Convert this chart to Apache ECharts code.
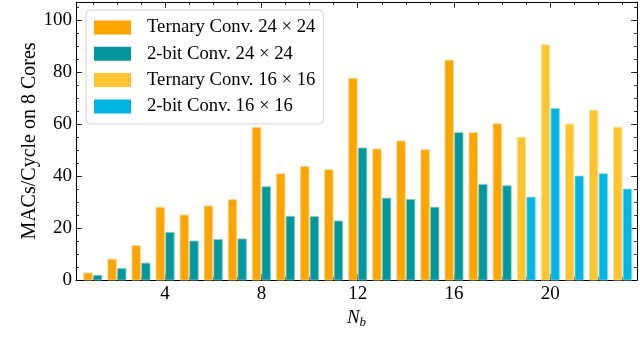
<!DOCTYPE html>
<html>
<head>
<meta charset="utf-8">
<script src="https://cdn.jsdelivr.net/npm/echarts@6/dist/echarts.min.js"></script>
<style>html,body{margin:0;padding:0;background:#fff}#c{width:640px;height:352px}</style>
</head>
<body>
<div id="c"></div>
<script>
// ---- data ----
const nb24 = [1,2,3,4,5,6,7,8,9,10,11,12,13,14,15,16,17,18];
const ternary24 = [2.7,8.0,13.2,28.0,25.0,28.5,30.9,58.7,40.9,43.7,42.4,77.6,50.4,53.5,50.1,84.6,56.7,60.1];
const bit2_24 = [1.8,4.4,6.5,18.3,15.0,15.6,15.8,35.9,24.5,24.4,22.7,50.8,31.5,31.0,28.0,56.7,36.8,36.3];
const nb16 = [19,20,21,22,23];
const ternary16 = [54.9,90.5,60.0,65.3,58.8];
const bit2_16 = [31.9,66.0,40.0,40.9,35.0];
const xMajorTicks = [4,8,12,16,20];
const xMinorTicks = [1,2,3,4,5,6,7,8,9,10,11,12,13,14,15,16,17,18,19,20,21,22,23];
const yMajorTicks = [0,20,40,60,80,100];
const yMinorTicks = [0,5,10,15,20,25,30,35,40,45,50,55,60,65,70,75,80,85,90,95,100,105];
const seriesNames = ['Ternary Conv. 24 × 24','2-bit Conv. 24 × 24','Ternary Conv. 16 × 16','2-bit Conv. 16 × 16'];

const FONT = "'Liberation Serif','DejaVu Serif',serif";
const FS = 19;
const BAR_W = 0.35, GAP = 0.025;

function pairs(xs, ys){ return xs.map((x,i)=>[x, ys[i]]); }

function makeSeries(name, xs, ys, side, color, edge){
  return {
    type:'custom', name, xAxisIndex:0, yAxisIndex:0,
    itemStyle:{color},
    data: pairs(xs, ys),
    encode:{x:0, y:1},
    renderItem:(params, api)=>{
      const x = api.value(0), y = api.value(1);
      const x0 = side < 0 ? x - GAP - BAR_W : x + GAP;
      const p0 = api.coord([x0, y]);
      const p1 = api.coord([x0 + BAR_W, 0]);
      return {type:'rect', shape:{x:p0[0], y:p0[1], width:p1[0]-p0[0], height:p1[1]-p0[1]},
              style:{fill:color, stroke:edge, lineWidth:0.8}};
    }
  };
}

function xAx(pos, ticks, len, labels, line){
  return {type:'value', position:pos, min:0.3, max:23.6,
    axisLine:{show:line, onZero:false, lineStyle:{color:'#000', width:1}},
    axisTick:{show:true, inside:true, length:len, customValues:ticks, lineStyle:{color:'#000', width:0.8}},
    axisLabel:{show:labels, customValues:xMajorTicks, fontFamily:FONT, fontSize:FS, color:'#000', margin:5},
    splitLine:{show:false}};
}
function yAx(pos, ticks, len, labels, line){
  return {type:'value', position:pos, min:0, max:107,
    axisLine:{show:line, onZero:false, lineStyle:{color:'#000', width:1}},
    axisTick:{show:true, inside:true, length:len, customValues:ticks, lineStyle:{color:'#000', width:0.8}},
    axisLabel:{show:labels, customValues:yMajorTicks, fontFamily:FONT, fontSize:FS, color:'#000', margin:4},
    splitLine:{show:false}};
}

const xAxes = [xAx('bottom', xMajorTicks, 6, true, true), xAx('bottom', xMinorTicks, 3, false, false),
               xAx('top', xMajorTicks, 6, false, true), xAx('top', xMinorTicks, 3, false, false)];
xAxes[0].name = '{i|N}{s|b}';
xAxes[0].nameLocation = 'middle';
xAxes[0].nameGap = 27;
xAxes[0].nameMoveOverlap = false;
xAxes[0].nameTextStyle = {rich:{i:{fontFamily:FONT, fontStyle:'italic', fontSize:FS, color:'#000'},
                                s:{fontFamily:FONT, fontStyle:'italic', fontSize:13, color:'#000', verticalAlign:'bottom', padding:[9,0,0,0]}}};
const yAxes = [yAx('left', yMajorTicks, 6, true, true), yAx('left', yMinorTicks, 3, false, false),
               yAx('right', yMajorTicks, 6, false, true), yAx('right', yMinorTicks, 3, false, false)];
yAxes[0].name = 'MACs/Cycle on 8 Cores';
yAxes[0].nameLocation = 'middle';
yAxes[0].nameGap = 36;
yAxes[0].nameMoveOverlap = false;
yAxes[0].nameTextStyle = {fontFamily:FONT, fontSize:20, color:'#000'};

const chart = echarts.init(document.getElementById('c'), null, {renderer:'canvas'});
chart.setOption({
  animation:false,
  backgroundColor:'#fff',
  grid:{left:76, right:3, top:2, bottom:72, containLabel:false},
  legend:{orient:'vertical', left:86, top:10, padding:[8,8,8,8], itemGap:7.3, itemWidth:37, itemHeight:14,
    icon:'rect', data:seriesNames, backgroundColor:'rgba(255,255,255,0.85)', borderColor:'#d4d4d4', borderWidth:1, borderRadius:4,
    textStyle:{fontFamily:FONT, fontSize:18.7, lineHeight:19, color:'#000', padding:[0,0,0,11]}},
  xAxis:xAxes,
  yAxis:yAxes,
  series:[
    makeSeries(seriesNames[0], nb24, ternary24, -1, '#FFA500', '#FFD27F'),
    makeSeries(seriesNames[1], nb24, bit2_24, 1, '#00979D', '#7FCBCE'),
    makeSeries(seriesNames[2], nb16, ternary16, -1, '#FFC42E', '#FFE196'),
    makeSeries(seriesNames[3], nb16, bit2_16, 1, '#00B5E2', '#7FDAF0')
  ]
});
</script>
</body>
</html>
